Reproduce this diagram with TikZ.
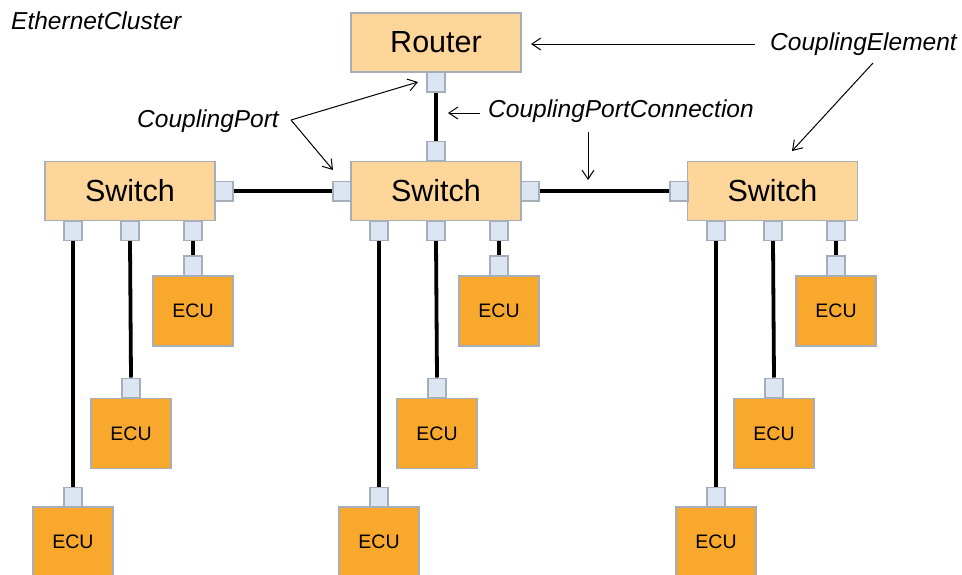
\documentclass[tikz,border=0pt]{standalone}
\usepackage{fontspec}
\setmainfont{Liberation Sans}
\usetikzlibrary{arrows.meta}
\definecolor{swfill}{HTML}{FFD699}
\definecolor{ecufill}{HTML}{F9A82E}
\definecolor{bordergray}{HTML}{A6AEBA}
\definecolor{portfill}{HTML}{DCE6F2}
\tikzset{
  elem/.style={draw=bordergray, line width=1.5pt, fill=swfill, minimum width=170pt, minimum height=59pt, inner sep=0pt, font=\fontsize{30.5}{33}\selectfont},
  ecubox/.style={draw=bordergray, line width=1.5pt, fill=ecufill, minimum width=80pt, minimum height=70pt, inner sep=0pt, font=\fontsize{19.5}{22}\selectfont},
  portbox/.style={draw=bordergray, line width=1.5pt, fill=portfill, minimum width=18pt, minimum height=19.5pt, inner sep=0pt},
  wire/.style={line width=3.8pt, black},
  lbl/.style={font=\fontsize{24.5}{27}\selectfont\itshape, inner sep=0pt, anchor=west},
  arr/.style={line width=1pt, -{Straight Barb[length=9pt, width=12pt]}}
}
\begin{document}
\begin{tikzpicture}[x=1pt, y=-1pt]
\useasboundingbox (0,0) rectangle (962,574);
% router
\node[elem] (router) at (436,42.5) {Router};
\node[portbox] (rp) at (436,82) {};
% switches
\node[elem] (swL) at (130,191) {Switch};
\node[elem] (swC) at (436,191) {Switch};
\node[elem] (swR) at (772.5,191) {Switch};
% switch side ports
\node[portbox] (swLr) at (224,191) {};
\node[portbox] (swCl) at (342,191) {};
\node[portbox] (swCt) at (436,151) {};
\node[portbox] (swCr) at (530,191) {};
\node[portbox] (swRl) at (679,191) {};
% bottom ports and ECUs
\foreach \n/\cx in {L/130, C/436, R/773}{
  \node[portbox] (\n p1) at (\cx-57,230.5) {};
  \node[portbox] (\n p2) at (\cx,230.5) {};
  \node[portbox] (\n p3) at (\cx+63,230.5) {};
  \node[portbox] (\n e3p) at (\cx+63,265.5) {};
  \node[ecubox] (\n e3) at (\cx+63,311) {ECU};
  \node[portbox] (\n e2p) at (\cx+1,388) {};
  \node[ecubox] (\n e2) at (\cx+1,433.3) {ECU};
  \node[portbox] (\n e1p) at (\cx-57,497) {};
  \node[ecubox] (\n e1) at (\cx-57,542) {ECU};
  \draw[wire] (\n p1.south) -- (\n e1p.north);
  \draw[wire] (\n p2.south) -- (\n e2p.north);
  \draw[wire] (\n p3.south) -- (\n e3p.north);
}
% connections between elements
\draw[wire] (rp.south) -- (swCt.north);
\draw[wire] (swLr.east) -- (swCl.west);
\draw[wire] (swCr.east) -- (swRl.west);
% labels
\node[lbl] (ec) at (11,21) {EthernetCluster};
\node[lbl] (ce) at (770,44) {CouplingElement};
\node[lbl] (cpc) at (488,111) {CouplingPortConnection};
\node[lbl] (cp) at (137,121) {CouplingPort};
% annotation arrows
\coordinate (a1s) at (755,44);
\coordinate (a1e) at (531,44);
\coordinate (a2s) at (873,63);
\coordinate (a2e) at (792,151);
\coordinate (a3s) at (480,113);
\coordinate (a3e) at (448,113);
\coordinate (a4s) at (588,132);
\coordinate (a4e) at (588,180);
\coordinate (a5s) at (291,120);
\coordinate (a5e) at (418,82);
\coordinate (a6e) at (333,170);
\draw[arr] (a1s) -- (a1e);
\draw[arr] (a2s) -- (a2e);
\draw[arr] (a3s) -- (a3e);
\draw[arr] (a4s) -- (a4e);
\draw[arr] (a5s) -- (a5e);
\draw[arr] (a5s) -- (a6e);
\end{tikzpicture}
\end{document}
